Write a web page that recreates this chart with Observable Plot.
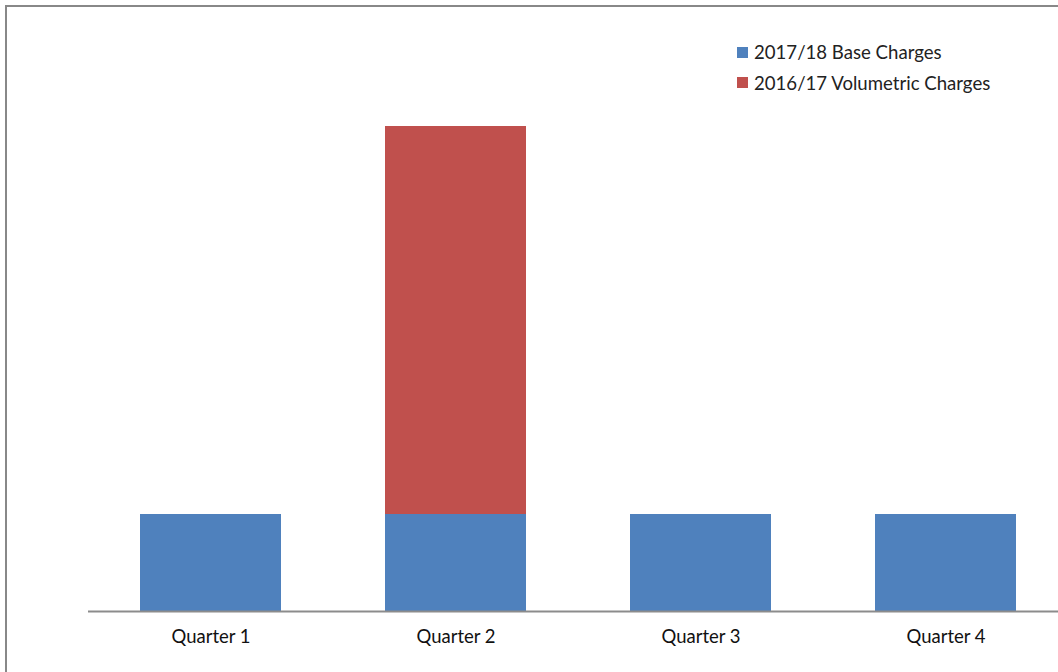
<!DOCTYPE html>
<html>
<head>
<meta charset="utf-8">
<script src="https://cdn.jsdelivr.net/npm/d3@7"></script>
<script src="https://cdn.jsdelivr.net/npm/@observablehq/plot@0.6"></script>
<style>
  html, body { margin: 0; padding: 0; background: #fff; overflow: hidden; }
  #wrap { position: relative; width: 1058px; height: 672px; overflow: hidden; }
  #frame { position: absolute; left: 5px; top: 5px; width: 1100px; height: 720px; border: 2px solid #888; box-sizing: border-box; pointer-events: none; }
  #chart { position: absolute; left: 0; top: 0; }
  #legend { position: absolute; left: 737px; top: 37px; font-family: Lato, "Open Sans", sans-serif; font-size: 18.6px; color: #222; }
  .item { display: flex; align-items: center; height: 30.5px; }
  .sw { width: 11px; height: 11px; margin-right: 6px; }
</style>
</head>
<body>
<div id="wrap">
  <div id="chart"></div>
  <div id="frame"></div>
  <div id="legend"></div>
</div>
<script>
const quarters = ["Quarter 1", "Quarter 2", "Quarter 3", "Quarter 4"];
const baseCharges = [1, 1, 1, 1];
const volumetricCharges = [0, 4, 0, 0];
const seriesNames = ["2017/18 Base Charges", "2016/17 Volumetric Charges"];
const seriesColors = ["#4F81BD", "#C0504D"];

const data = [];
quarters.forEach((q, i) => {
  data.push({quarter: q, series: seriesNames[0], value: baseCharges[i]});
  data.push({quarter: q, series: seriesNames[1], value: volumetricCharges[i]});
});

const chart = Plot.plot({
  width: 1058,
  height: 672,
  marginLeft: 88,
  marginRight: 0,
  marginTop: 0,
  marginBottom: 61,
  style: {fontFamily: "Lato, 'Open Sans', sans-serif", fontSize: "18px", background: "transparent"},
  x: {domain: quarters, range: [87, 1069], paddingInner: 0.426, paddingOuter: 0.21, label: null},
  y: {domain: [0, 5], range: [611, 126], axis: null},
  color: {domain: seriesNames, range: seriesColors},
  marks: [
    Plot.barY(data, Plot.stackY({x: "quarter", y: "value", fill: "series", order: seriesNames})),
    Plot.ruleY([0], {stroke: "#8c8c8c", strokeWidth: 2}),
    Plot.axisX({tickSize: 0, tickPadding: 18, fill: "#111", fontSize: 18.5, label: null})
  ]
});
document.getElementById("chart").appendChild(chart);

const legend = document.getElementById("legend");
seriesNames.forEach((name, i) => {
  const row = document.createElement("div");
  row.className = "item";
  const sw = document.createElement("div");
  sw.className = "sw";
  sw.style.background = seriesColors[i];
  const label = document.createElement("span");
  label.textContent = name;
  row.appendChild(sw);
  row.appendChild(label);
  legend.appendChild(row);
});
</script>
</body>
</html>
